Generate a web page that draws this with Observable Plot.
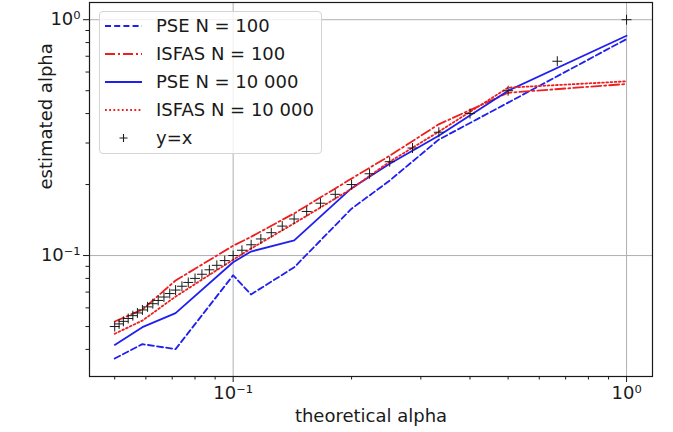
<!DOCTYPE html>
<html><head><meta charset="utf-8">
<script src="https://cdn.jsdelivr.net/npm/d3@7"></script>
<script src="https://cdn.jsdelivr.net/npm/@observablehq/plot@0.6"></script>
<style>
body{margin:0;background:#fff;}
#wrap{position:relative;width:673px;height:432px;font-family:"DejaVu Sans",sans-serif;}
#legend{position:absolute;left:99px;top:11px;width:223px;height:143px;box-sizing:border-box;border:1px solid #d4d4d4;border-radius:4px;background:rgba(255,255,255,0.8);}
.row{position:absolute;left:0;height:28px;width:100%;}
.row svg{position:absolute;left:5px;top:0;}
.row span{position:absolute;left:56px;top:0;line-height:28px;font-size:18px;color:#1a1a1a;white-space:nowrap;}
</style></head><body><div id="wrap"></div>
<script>
// theoretical alpha values at which the estimator curves were computed
const alphaLines = [0.05, 0.0588, 0.0714, 0.1, 0.111, 0.143, 0.2, 0.25, 0.333, 0.5, 1.0];
// estimated alpha per series
const pse100     = [0.0366, 0.0421, 0.0401, 0.0825, 0.0684, 0.0892, 0.158, 0.208, 0.310, 0.445, 0.828];
const isfas100   = [0.0525, 0.0590, 0.0784, 0.110, 0.120, 0.151, 0.212, 0.265, 0.360, 0.490, 0.534];
const pse10000   = [0.0418, 0.0497, 0.0570, 0.0937, 0.104, 0.116, 0.193, 0.245, 0.322, 0.500, 0.855];
const isfas10000 = [0.0466, 0.0530, 0.0670, 0.0960, 0.107, 0.137, 0.192, 0.250, 0.335, 0.515, 0.548];
// y = x reference points
const yxPoints = [1.0, 0.6667, 0.5, 0.4, 0.3333, 0.2857, 0.25, 0.2222, 0.2, 0.1818, 0.1667, 0.1538,
  0.1429, 0.1333, 0.125, 0.1176, 0.1111, 0.1053, 0.1, 0.0952, 0.0909, 0.0870, 0.0833, 0.08,
  0.0769, 0.0741, 0.0714, 0.0690, 0.0667, 0.0645, 0.0625, 0.0606, 0.0588, 0.0571, 0.0556,
  0.0541, 0.0526, 0.0513, 0.05];
// series names
const seriesNames = ["PSE N = 100", "ISFAS N = 100", "PSE N = 10 000", "ISFAS N = 10 000", "y=x"];
// axis ticks
const majorTicks = [0.1, 1];
const majorLabels = ["10\u207B\u00B9", "10\u2070"];
const minorX = [0.05, 0.06, 0.07, 0.08, 0.09, 0.2, 0.3, 0.4, 0.5, 0.6, 0.7, 0.8, 0.9];
const minorY = [0.04, 0.05, 0.06, 0.07, 0.08, 0.09, 0.2, 0.3, 0.4, 0.5, 0.6, 0.7, 0.8, 0.9];

const seriesValues = [pse100, isfas100, pse10000, isfas10000];
const styles = [
  {stroke: "#1f1ff0", dash: "6,3.2"},
  {stroke: "#f01f1f", dash: "10,3,2,3"},
  {stroke: "#1f1ff0", dash: null},
  {stroke: "#f01f1f", dash: "1.8,2.4"}
];
const fmt = d => majorLabels[majorTicks.indexOf(d)];
const ink = "#1a1a1a";

const lineMarks = seriesValues.map((vals, i) =>
  Plot.line(alphaLines, {x: alphaLines, y: vals, stroke: styles[i].stroke, strokeWidth: 1.8,
    strokeDasharray: styles[i].dash ?? undefined}));

const chart = Plot.plot({
  width: 673, height: 432,
  marginLeft: 89, marginRight: 21, marginTop: 2, marginBottom: 56,
  style: {fontFamily: "DejaVu Sans, sans-serif", fontSize: "18px", background: "white", color: ink, overflow: "visible"},
  x: {type: "log", domain: [0.04314, 1.164]},
  y: {type: "log", domain: [0.0307, 1.183]},
  marks: [
    Plot.gridX(majorTicks, {stroke: "#b0b0b0", strokeOpacity: 1, strokeWidth: 1}),
    Plot.gridY(majorTicks, {stroke: "#b0b0b0", strokeOpacity: 1, strokeWidth: 1}),
    ...lineMarks,
    Plot.dot(yxPoints, {x: d => d, y: d => d, symbol: "plus", r: 3.3, stroke: ink, strokeWidth: 1}),
    Plot.frame({stroke: ink, strokeWidth: 1.2}),
    Plot.axisX(majorTicks, {tickSize: 6, tickPadding: 4, tickFormat: fmt, fontSize: 18, label: null}),
    Plot.axisX(minorX, {tickSize: 3.5, tickFormat: () => "", label: null}),
    Plot.axisY(majorTicks, {tickSize: 6, tickPadding: 3, tickFormat: fmt, fontSize: 18, label: null}),
    Plot.axisY(minorY, {tickSize: 3.5, tickFormat: () => "", label: null}),
    Plot.text(["theoretical alpha"], {frameAnchor: "bottom", dy: 40, fontSize: 18, fill: ink, lineAnchor: "middle"}),
    Plot.text(["estimated alpha"], {frameAnchor: "left", dx: -43, rotate: -90, fontSize: 18, fill: ink, lineAnchor: "middle"})
  ]
});

const wrap = document.getElementById("wrap");
wrap.appendChild(chart);

// legend overlay inside the axes (matplotlib-style)
const legend = d3.select(wrap).append("div").attr("id", "legend");
seriesNames.forEach((name, i) => {
  const row = legend.append("div").attr("class", "row").style("top", (i * 27.9) + "px");
  const svg = row.append("svg").attr("width", 38).attr("height", 28);
  if (i < 4) {
    const l = svg.append("line").attr("x1", 0).attr("x2", 37).attr("y1", 14).attr("y2", 14)
      .attr("stroke", styles[i].stroke).attr("stroke-width", 1.8);
    if (styles[i].dash) l.attr("stroke-dasharray", styles[i].dash);
  } else {
    svg.append("path").attr("d", "M14.5,14h8M18.5,10v8").attr("stroke", ink).attr("stroke-width", 1.1);
  }
  row.append("span").text(name);
});
</script>
</body></html>
